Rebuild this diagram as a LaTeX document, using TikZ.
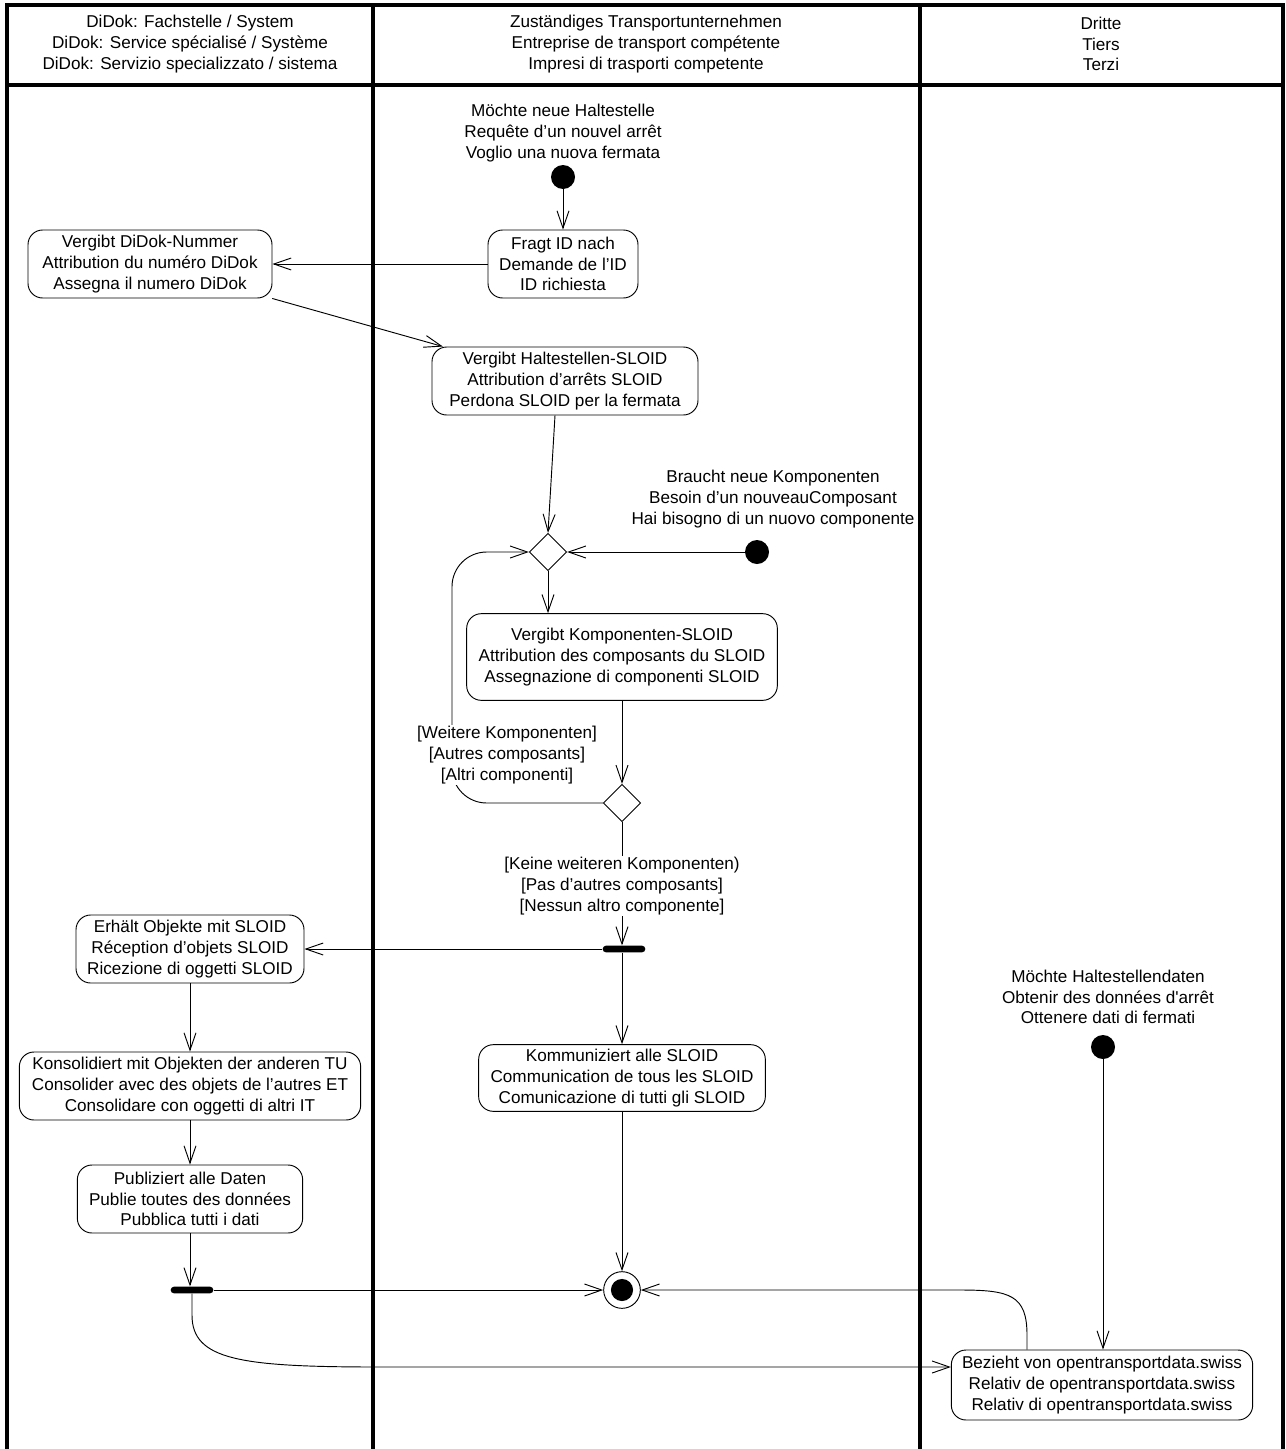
\documentclass[tikz,border=0pt]{standalone}
\usepackage{fontspec}
\setmainfont{Liberation Sans}
\newfontfamily\nomapfont{Liberation Sans}
\usetikzlibrary{arrows.meta,shapes.geometric}
\tikzset{
  txt/.style={font=\fontsize{12.85pt}{15.6pt}\selectfont, align=center, inner sep=1pt},
  act/.style={txt, draw, rounded corners=11pt, line width=0.7pt, inner sep=0pt},
  startnode/.style={circle, fill=black, inner sep=0pt, minimum size=18pt},
  decision/.style={diamond, draw, aspect=1, inner sep=0pt, minimum size=28pt, line width=0.7pt},
  forkbar/.style={rectangle, fill=black, rounded corners=2.5pt, inner sep=0pt, minimum width=32pt, minimum height=5pt},
  arr/.style={-{Straight Barb[length=13pt,width=9pt]}, line width=0.7pt},
  frame/.style={line width=2.3pt, line cap=rect},
  guard/.style={txt, fill=white}
}
\begin{document}
\begin{tikzpicture}[x=0.75pt, y=-0.75pt]
\useasboundingbox (0,0) rectangle (1285,1449);
% frame
\draw[frame] (7,1470) -- (7,5) -- (1283,5) -- (1283,1470);
\draw[frame] (7,85) -- (1283,85);
\draw[frame] (373,5) -- (373,1470);
\draw[frame] (920,5) -- (920,1470);
% headers
\node[txt] (h1) at (190,44) {DiDok: Fachstelle / System\\DiDok: Service spécialisé / Système\\DiDok: Servizio specializzato / sistema};
\node[txt] (h2) at (646,44) {Zuständiges Transportunternehmen\\Entreprise de transport compétente\\Impresi di trasporti competente};
\node[txt] (h3) at (1101,44) {Dritte\\Tiers\\Terzi};
% start 1
\node[txt] (l1) at (563,133) {Möchte neue Haltestelle\\Requête d’un nouvel arrêt\\Voglio una nuova fermata};
\node[startnode] (s1) at (563,177) {};
\node[act, minimum width=112.5pt, minimum height=51pt] (fragt) at (563,264) {Fragt ID nach\\Demande de l’ID\\ID richiesta};
\node[act, minimum width=183pt, minimum height=51pt] (didok) at (150,264) {Vergibt DiDok-Nummer\\Attribution du numéro DiDok\\Assegna il numero DiDok};
\node[act, minimum width=199.5pt, minimum height=51pt] (halt) at (565,381) {Vergibt Haltestellen-SLOID\\Attribution d’arrêts SLOID\\Perdona SLOID per la fermata};
\node[decision] (d1) at (548,552) {};
\node[txt] (l2) at (773,499) {Braucht neue Komponenten\\Besoin d’un nouveauComposant\\Hai bisogno di un nuovo componente};
\node[startnode] (s2) at (757,552) {};
\node[act, minimum width=233pt, minimum height=65pt] (komp) at (622,657) {Vergibt Komponenten-SLOID\\Attribution des composants du SLOID\\Assegnazione di componenti SLOID};
\node[decision] (d2) at (622,803) {};
\node[forkbar] (bar1) at (624,949) {};
\node[act, minimum width=171pt, minimum height=51pt] (erh) at (190,949) {Erhält Objekte mit SLOID\\Réception d’objets SLOID\\Ricezione di oggetti SLOID};
\node[act, minimum width=256pt, minimum height=51pt] (kons) at (190,1086) {Konsolidiert mit Objekten der anderen TU\\Consolider avec des objets de l’autres ET\\Consolidare con oggetti di altri IT};
\node[act, minimum width=169pt, minimum height=51pt] (publ) at (190,1199) {Publiziert alle Daten\\Publie toutes des données\\Pubblica tutti i dati};
\node[act, minimum width=215pt, minimum height=50pt] (komm) at (622,1078) {Kommuniziert alle SLOID\\Communication de tous les SLOID\\Comunicazione di tutti gli SLOID};
\node[forkbar] (bar2) at (192,1290) {};
\node[circle, draw, line width=0.7pt, minimum size=27.5pt, inner sep=0pt] (fin) at (622,1290) {};
\fill (fin.center) circle (8.3pt);
\node[txt] (l3) at (1108,997) {Möchte Haltestellendaten\\Obtenir des données d{\nomapfont'}arrêt\\Ottenere dati di fermati};
\node[startnode] (s3) at (1103,1047) {};
\node[act, minimum width=226pt, minimum height=52.5pt] (bez) at (1102,1385) {Bezieht von opentransportdata.swiss\\Relativ de opentransportdata.swiss\\Relativ di opentransportdata.swiss};
% connectors
\draw[arr] (s1) -- (fragt.north);
\draw[arr] (fragt.west) -- (didok.east);
\draw[arr] (didok) -- (halt);
\draw[arr] ([xshift=-7.5pt]halt.south) -- (d1.north);
\draw[arr] (s2) -- (d1.east);
\draw[arr] (d1.south) -- (d1.south |- komp.north);
\draw[arr] (komp.south) -- (d2.north);
\draw[arr, rounded corners=26pt] (d2.west) -- (452,803) -- (452,552) -- (d1.west);
\node[guard] (g1) at (507,755) {{[Weitere Komponenten]}\\{[Autres composants]}\\{[Altri componenti]}};
\draw[arr] (d2.south) -- (d2.south |- bar1.north);
\node[guard] (g2) at (622,886) {{[Keine weiteren Komponenten)}\\{[Pas d’autres composants]}\\{[Nessun altro componente]}};
\draw[arr] (bar1.west) -- (erh.east);
\draw[arr] (komm.north |- bar1.south) -- (komm.north);
\draw[arr] (erh.south) -- (kons.north);
\draw[arr] (kons.south) -- (publ.north);
\draw[arr] (publ.south) -- (publ.south |- bar2.north);
\draw[arr] (komm.south) -- (fin.north);
\draw[arr] (bar2.east) -- (fin.west);
\draw[arr] (bar2.south) -- (192,1315) .. controls (192,1360) and (240,1367) .. (380,1367) -- (bez.west |- 380,1367);
\draw[arr] (s3) -- (s3 |- bez.north);
\draw[arr] (bez.north -| 1027,0) -- (1027,1335) .. controls (1027,1295) and (1010,1290) .. (960,1290) -- (fin.east);
\end{tikzpicture}
\end{document}
